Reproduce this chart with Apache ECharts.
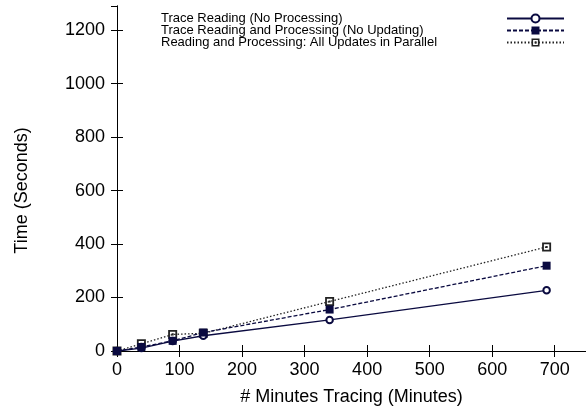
<!DOCTYPE html>
<html>
<head>
<meta charset="utf-8">
<script src="https://cdn.jsdelivr.net/npm/echarts@6/dist/echarts.min.js"></script>
<style>html,body{margin:0;padding:0;background:#fff}#c{width:586px;height:416px}</style>
</head>
<body>
<div id="c"></div>
<script>
var seriesNames = [
  'Trace Reading (No Processing)',
  'Trace Reading and Processing (No Updating)',
  'Reading and Processing: All Updates in Parallel'
];
var xMinutes = [0, 39, 89, 138, 340, 687];
var readOnly = [0, 11, 37, 57, 116, 227];
var readProcess = [0, 15, 38, 69, 155, 319];
var parallelUpdates = [0, 27, 62, 66, 185, 389];
var xTitle = '# Minutes Tracing (Minutes)';
var yTitle = 'Time (Seconds)';

function pairs(xs, ys) { return xs.map(function (x, i) { return [x, ys[i]]; }); }

var FONT = 'Liberation Sans, Arial, sans-serif';
var navy = '#0a0a40';
var boxDot = 'path://M0,0L10,0L10,10L0,10Z M2,2L2,8L8,8L8,2Z M3.8,3.8L6.2,3.8L6.2,6.2L3.8,6.2Z';
var plain = function (v) { return String(v); };

var chart = echarts.init(document.getElementById('c'), null, {renderer: 'canvas'});
function axisBase() {
  return {
    type: 'value',
    axisLine: {show: true, lineStyle: {color: '#000', width: 1}},
    axisTick: {show: true, inside: true, length: 6, lineStyle: {color: '#000', width: 1}},
    splitLine: {show: false}
  };
}
chart.setOption({
  animation: false,
  backgroundColor: '#fff',
  grid: {left: 117, top: 6, right: -5, bottom: 65, containLabel: false},
  legend: {
    orient: 'vertical',
    left: 161,
    top: 12,
    padding: 0,
    itemGap: -1,
    align: 'right',
    itemWidth: 57,
    itemHeight: 10,
    selectedMode: false,
    formatter: function (n) { return '{t|' + n + '}'; },
    textStyle: {
      fontFamily: FONT, fontSize: 13, color: '#000', lineHeight: 10,
      rich: {t: {width: 341, align: 'left', fontFamily: FONT, fontSize: 13, lineHeight: 10}}
    },
    data: seriesNames
  },
  xAxis: [
    Object.assign(axisBase(), {
      min: 0, max: 750, interval: 100, position: 'bottom',
      name: xTitle, nameLocation: 'middle', nameGap: 37,
      nameTextStyle: {fontFamily: FONT, fontSize: 18, color: '#000'},
      axisLabel: {showMaxLabel: false, margin: 10, fontFamily: FONT, fontSize: 18, color: '#000', formatter: plain}
    }),
    Object.assign(axisBase(), {
      min: 0, max: 750, interval: 100, position: 'top',
      axisLabel: {show: false}
    })
  ],
  yAxis: [
    Object.assign(axisBase(), {
      min: 0, max: 1290, interval: 200, position: 'left',
      name: yTitle, nameLocation: 'middle', nameGap: 86,
      nameTextStyle: {fontFamily: FONT, fontSize: 18, color: '#000', padding: [0, 24, 0, 0]},
      axisLabel: {showMaxLabel: false, margin: 12, fontFamily: FONT, fontSize: 18, color: '#000', formatter: plain}
    }),
    Object.assign(axisBase(), {
      min: 0, max: 1290, interval: 200, position: 'right',
      axisLabel: {show: false}
    })
  ],
  series: [
    {
      name: seriesNames[0], type: 'line', data: pairs(xMinutes, readOnly),
      symbol: 'emptyCircle', symbolSize: 6.5, showAllSymbol: true,
      lineStyle: {color: navy, width: 1.3, type: 'solid'},
      itemStyle: {color: navy, borderWidth: 1.3},
      z: 3
    },
    {
      name: seriesNames[1], type: 'line', data: pairs(xMinutes, readProcess),
      symbol: 'rect', symbolSize: 8, showAllSymbol: true,
      lineStyle: {color: navy, width: 1.3, type: [4, 2]},
      itemStyle: {color: navy, borderWidth: 0},
      z: 4
    },
    {
      name: seriesNames[2], type: 'line', data: pairs(xMinutes, parallelUpdates),
      symbol: boxDot, symbolSize: 9, showAllSymbol: true,
      lineStyle: {color: '#222', width: 1.3, type: [1.5, 2]},
      itemStyle: {color: '#222', borderWidth: 0},
      z: 2
    }
  ]
});
</script>
</body>
</html>
